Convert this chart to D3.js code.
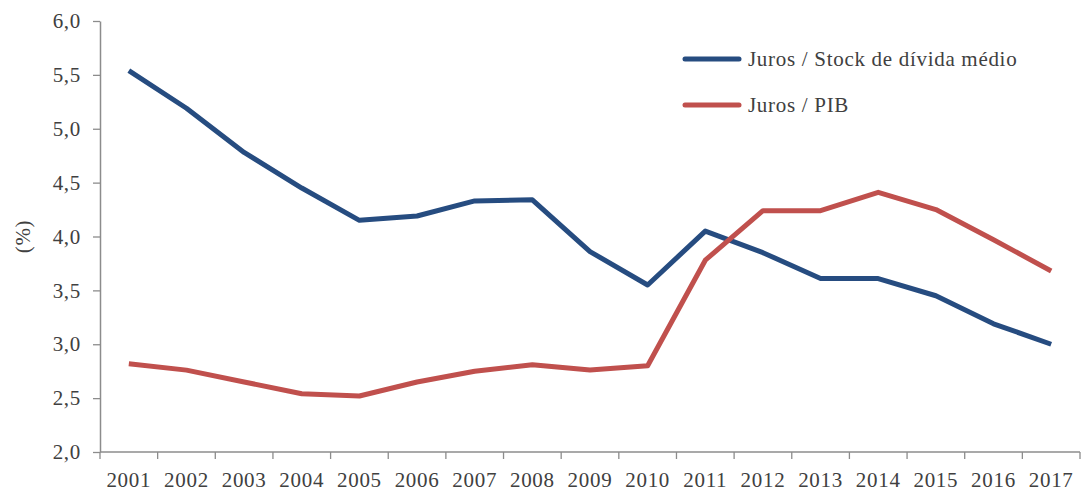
<!DOCTYPE html>
<html>
<head>
<meta charset="utf-8">
<script src="https://cdn.jsdelivr.net/npm/d3@7"></script>
<style>
  body { margin: 0; background: #fff; }
  text { font-family: "Liberation Serif", "DejaVu Serif", serif; fill: #404040; letter-spacing: 0.7px; }
</style>
</head>
<body>
<div id="chart"></div>
<script>
// Data
var years = ["2001", "2002", "2003", "2004", "2005", "2006", "2007", "2008", "2009",
             "2010", "2011", "2012", "2013", "2014", "2015", "2016", "2017"];
var jurosStock = [5.54, 5.19, 4.78, 4.45, 4.15, 4.19, 4.33, 4.34, 3.86,
                  3.55, 4.05, 3.85, 3.61, 3.61, 3.45, 3.19, 3.00];
var jurosPib = [2.82, 2.76, 2.65, 2.54, 2.52, 2.65, 2.75, 2.81, 2.76,
                2.80, 3.78, 4.24, 4.24, 4.41, 4.25, 3.97, 3.68];
var yTicks = [2.0, 2.5, 3.0, 3.5, 4.0, 4.5, 5.0, 5.5, 6.0];
var seriesNames = ["Juros / Stock de dívida médio", "Juros / PIB"];
var seriesColors = ["#264c80", "#c0504d"];

var svgWidth = 1081;
var svgHeight = 492;

var margin = { top: 21, right: 1, bottom: 40, left: 100 };
var width = svgWidth - margin.left - margin.right;
var height = svgHeight - margin.top - margin.bottom;

var svg = d3.select("#chart")
  .append("svg")
  .attr("width", svgWidth)
  .attr("height", svgHeight);

var chartGroup = svg.append("g")
  .attr("transform", `translate(${margin.left}, ${margin.top})`);

// Scales
var xScale = d3.scaleBand()
  .domain(years)
  .range([0, width]);

var yScale = d3.scaleLinear()
  .domain([2, 6])
  .range([height, 0]);

var fmt = function(d) { return d3.format(".1f")(d).replace(".", ","); };

// Y axis
var yAxis = chartGroup.append("g")
  .call(d3.axisLeft(yScale).tickValues(yTicks).tickFormat(fmt).tickSize(7).tickSizeOuter(0));
yAxis.select(".domain").attr("stroke", "#8c8c8c").attr("stroke-width", 1.5);
yAxis.selectAll(".tick line").attr("stroke", "#8c8c8c").attr("stroke-width", 1.3);
yAxis.selectAll(".tick text")
  .attr("x", -19)
  .attr("font-family", null)
  .attr("font-size", null)
  .style("font-size", "21px")
  .attr("fill", "#404040");

// X axis (ticks between categories)
var xAxis = chartGroup.append("g")
  .attr("transform", `translate(0, ${height})`);
xAxis.append("line")
  .attr("x1", 0).attr("x2", width)
  .attr("stroke", "#8c8c8c").attr("stroke-width", 1.5);
var boundaries = years.map(function(d) { return xScale(d); }).concat([width]);
xAxis.selectAll(".xtick")
  .data(boundaries)
  .enter()
  .append("line")
  .attr("x1", d => d).attr("x2", d => d)
  .attr("y1", 0).attr("y2", 7)
  .attr("stroke", "#8c8c8c").attr("stroke-width", 1.3);
xAxis.selectAll(".xlabel")
  .data(years)
  .enter()
  .append("text")
  .attr("x", d => xScale(d) + xScale.bandwidth() / 2)
  .attr("y", 35)
  .attr("text-anchor", "middle")
  .style("font-size", "21px")
  .text(d => d);

// Y axis title
svg.append("text")
  .attr("transform", `translate(30, ${margin.top + height / 2}) rotate(-90)`)
  .attr("text-anchor", "middle")
  .style("font-size", "21px")
  .text("(%)");

// Lines
var line = d3.line()
  .x((d, i) => xScale(years[i]) + xScale.bandwidth() / 2)
  .y(d => yScale(d));

[jurosStock, jurosPib].forEach(function(series, i) {
  chartGroup.append("path")
    .datum(series)
    .attr("fill", "none")
    .attr("stroke", seriesColors[i])
    .attr("stroke-width", 5)
    .attr("stroke-linejoin", "round")
    .attr("stroke-linecap", "butt")
    .attr("d", line);
});

// Legend
var legend = svg.append("g")
  .attr("transform", "translate(685, 59)");
seriesNames.forEach(function(name, i) {
  var g = legend.append("g").attr("transform", `translate(0, ${i * 46})`);
  g.append("line")
    .attr("x1", 0).attr("x2", 54)
    .attr("stroke", seriesColors[i])
    .attr("stroke-width", 5)
    .attr("stroke-linecap", "round");
  g.append("text")
    .attr("x", 63)
    .attr("y", 7)
    .style("font-size", "21px")
    .text(name);
});
</script>
</body>
</html>
